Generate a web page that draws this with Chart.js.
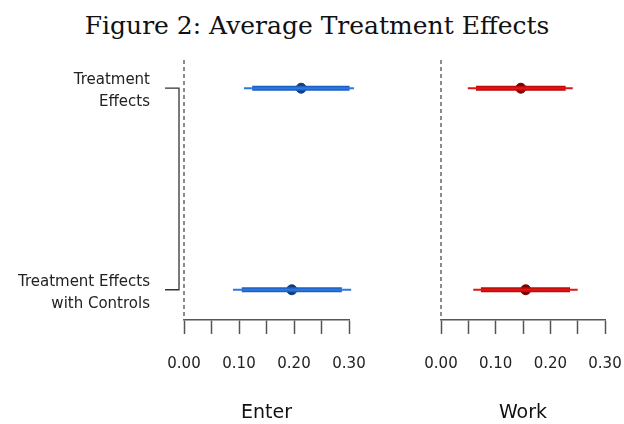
<!DOCTYPE html>
<html>
<head>
<meta charset="utf-8">
<script src="https://cdn.jsdelivr.net/npm/chart.js@4/dist/chart.umd.min.js"></script>
<style>
  html, body { margin: 0; padding: 0; background: #fff; }
  #wrap { position: relative; width: 624px; height: 424px; overflow: hidden; }
  #title {
    position: absolute; left: 10px; top: 11px; width: 614px;
    text-align: center; font-family: "DejaVu Serif", serif; font-size: 25px;
    line-height: 30px; color: #111;
  }
  canvas { position: absolute; left: 0; top: 0; }
</style>
</head>
<body>
<div id="wrap">
  <div id="title">Figure 2: Average Treatment Effects</div>
  <canvas id="enter" width="680" height="424"></canvas>
  <canvas id="work" width="680" height="424"></canvas>
</div>
<script>
// rows, top to bottom
const rowLabels = [['Treatment', 'Effects'], ['Treatment Effects', 'with Controls']];
const rowPos = [2, 1];

// Enter panel
const enterEst = [0.213, 0.196];
const enterLo90 = [0.124, 0.105];
const enterHi90 = [0.301, 0.287];
const enterLo95 = [0.109, 0.089];
const enterHi95 = [0.309, 0.304];

// Work panel
const workEst = [0.146, 0.155];
const workLo90 = [0.064, 0.073];
const workHi90 = [0.228, 0.236];
const workLo95 = [0.049, 0.059];
const workHi95 = [0.241, 0.250];

const xTickValues = [0, 0.05, 0.10, 0.15, 0.20, 0.25, 0.30];
const xTickLabels = ['0.00', '', '0.10', '', '0.20', '', '0.30'];

const FONT = 'DejaVu Sans';

// dashed reference line at zero, and the bracket joining the two rows
const zeroLine = {
    id: 'zeroLine',
    beforeDatasetsDraw(chart) {
        const { ctx, chartArea, scales } = chart;
        const x = scales.x.getPixelForValue(0);
        ctx.save();
        ctx.strokeStyle = '#666';
        ctx.lineWidth = 1.5;
        ctx.setLineDash([4, 3]);
        ctx.beginPath();
        ctx.moveTo(x, chartArea.top);
        ctx.lineTo(x, chartArea.bottom);
        ctx.stroke();
        ctx.restore();
    }
};

const bracket = {
    id: 'bracket',
    afterDraw(chart) {
        const { ctx, chartArea, scales } = chart;
        const yTop = scales.y.getPixelForValue(rowPos[0]);
        const yBot = scales.y.getPixelForValue(rowPos[1]);
        const x = chartArea.left - 5;
        ctx.save();
        ctx.strokeStyle = '#333';
        ctx.lineWidth = 1.3;
        ctx.beginPath();
        ctx.moveTo(x - 14, yTop);
        ctx.lineTo(x, yTop);
        ctx.lineTo(x, yBot);
        ctx.lineTo(x - 14, yBot);
        ctx.stroke();
        ctx.restore();
    }
};

function intervalSets(lo, hi, color, width) {
    return rowPos.map((r, i) => ({
        type: 'line',
        data: [{ x: lo[i], y: r }, { x: hi[i], y: r }],
        borderColor: color,
        borderWidth: width,
        borderCapStyle: 'butt',
        pointRadius: 0,
        clip: false
    }));
}

function makeChart(id, opts) {
    const datasets = [
        ...intervalSets(opts.lo95, opts.hi95, opts.thin, 2),
        ...intervalSets(opts.lo90, opts.hi90, opts.thick, 5),
        {
            type: 'scatter',
            data: rowPos.map((r, i) => ({ x: opts.est[i], y: r })),
            backgroundColor: opts.dot,
            borderColor: opts.dot,
            pointRadius: 5,
            pointHoverRadius: 5,
            clip: false
        }
    ];

    return new Chart(document.getElementById(id), {
        type: 'scatter',
        data: { datasets: datasets },
        options: {
            responsive: false,
            animation: false,
            events: [],
            layout: { padding: opts.padding },
            plugins: { legend: { display: false }, tooltip: { enabled: false } },
            scales: {
                x: {
                    type: 'linear',
                    min: 0,
                    max: 0.3,
                    afterBuildTicks: (scale) => { scale.ticks = xTickValues.map(v => ({ value: v })); },
                    afterFit: (scale) => { scale.height = 104; },
                    ticks: {
                        autoSkip: false,
                        maxRotation: 0,
                        padding: 21,
                        color: '#222',
                        font: { family: FONT, size: 15 },
                        callback: (v, i) => xTickLabels[i]
                    },
                    grid: {
                        drawOnChartArea: false,
                        drawTicks: true,
                        tickLength: 14,
                        tickColor: '#555',
                        tickWidth: 1.5
                    },
                    border: { display: true, color: '#555', width: 1.5 },
                    title: {
                        display: true,
                        text: opts.title,
                        color: '#111',
                        font: { family: FONT, size: 19, lineHeight: 1 },
                        padding: { top: 0, bottom: 1 }
                    }
                },
                y: {
                    type: 'linear',
                    display: opts.showRows,
                    min: 0.85,
                    max: 2.14,
                    afterBuildTicks: (scale) => { scale.ticks = rowPos.map(v => ({ value: v })); },
                    afterFit: (scale) => { if (opts.showRows) scale.width = 184; },
                    ticks: {
                        padding: 34,
                        labelOffset: 3,
                        color: '#222',
                        font: { family: FONT, size: 15, lineHeight: 1.47 },
                        callback: (v) => rowLabels[rowPos.indexOf(v)]
                    },
                    grid: { display: false, drawTicks: false },
                    border: { display: false }
                }
            }
        },
        plugins: opts.showRows ? [zeroLine, bracket] : [zeroLine]
    });
}

// canvases are 680 wide, the wrapper crops them to 624
makeChart('enter', {
    title: 'Enter',
    est: enterEst, lo90: enterLo90, hi90: enterHi90, lo95: enterLo95, hi95: enterHi95,
    thin: '#2b78e0', thick: '#1f5fc0', dot: '#103c7c',
    showRows: true,
    padding: { top: 60, left: 0, right: 331, bottom: 0 }
});

makeChart('work', {
    title: 'Work',
    est: workEst, lo90: workLo90, hi90: workHi90, lo95: workLo95, hi95: workHi95,
    thin: '#e01515', thick: '#c00a0a', dot: '#780000',
    showRows: false,
    padding: { top: 60, left: 441, right: 75, bottom: 0 }
});
</script>
</body>
</html>
